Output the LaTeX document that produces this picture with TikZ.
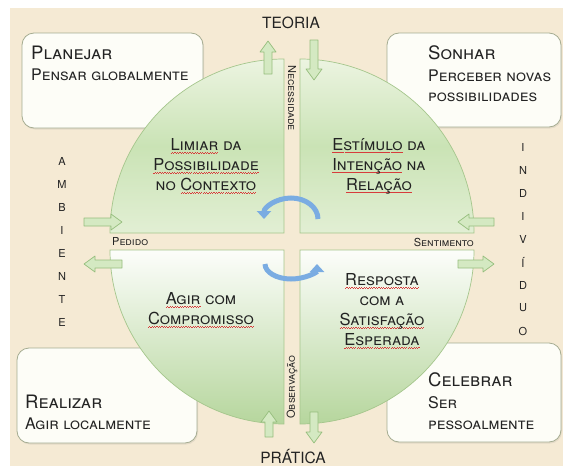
\documentclass[tikz,border=0pt]{standalone}
\usepackage{fontspec}
\setmainfont{TeX Gyre Heros}
\usetikzlibrary{arrows.meta,shadows}

\definecolor{parchment}{RGB}{245,234,212}
\definecolor{boxfill}{RGB}{253,253,247}
\definecolor{boxline}{RGB}{165,172,145}
\definecolor{leafpale}{RGB}{236,244,225}
\definecolor{leafgreen}{RGB}{202,227,181}
\definecolor{leafdark}{RGB}{182,214,157}
\definecolor{leafline}{RGB}{165,198,140}
\definecolor{arrowfill}{RGB}{212,233,194}
\definecolor{arrowline}{RGB}{150,190,125}
\definecolor{cycleblue}{RGB}{122,172,226}
\definecolor{inkgray}{RGB}{35,35,35}
\definecolor{squiggle}{RGB}{215,60,60}

% red spell-check line under a word
\newsavebox\spellbox
\newcommand\spellmark[1]{\sbox\spellbox{#1}%
  \rlap{\hbox to \wd\spellbox{\color{squiggle}\xleaders\hbox{\rule[-3pt]{1.2pt}{0.7pt}\rule[-2.2pt]{1.2pt}{0.7pt}}\hfill}}#1}

% fat green arrow: tail x, tail y, direction, length
\newcommand\greenarrow[4]{%
  \draw[flowarrow, shift={(#1,#2)}, rotate=#3]
    (0,-4) -- ({#4-11},-4) -- ({#4-11},-8) -- (#4,0) -- ({#4-11},8) -- ({#4-11},4) -- (0,4) -- cycle;}

\tikzset{
  card/.style={rounded corners=12pt, fill=boxfill, draw=boxline, line width=0.8pt,
    drop shadow={opacity=0.15, shadow xshift=1pt, shadow yshift=-1.5pt}},
  quadtop/.style={draw=leafline, line width=0.7pt, top color=leafpale, bottom color=leafpale!70!leafgreen, middle color=leafgreen},
  quadbottom/.style={draw=leafline, line width=0.7pt, top color=white!85!leafpale, bottom color=leafdark},
  flowarrow/.style={fill=arrowfill, draw=arrowline, line width=0.7pt, line join=round},
  cyclearrow/.style={draw=cycleblue, line width=5pt, -{Triangle[width=14pt,length=8pt]}},
  cardtitle/.style={font=\fontsize{18.5}{20}\selectfont\scshape, text=inkgray, anchor=base west, inner sep=0pt},
  cardtext/.style={font=\fontsize{16}{18}\selectfont\scshape, text=inkgray, anchor=base west, inner sep=0pt},
  leaftext/.style={font=\fontsize{16.5}{20}\selectfont\scshape, text=inkgray, align=center},
  gaplabel/.style={font=\fontsize{11}{12}\selectfont\scshape, text=inkgray, inner sep=0pt},
  sideletter/.style={font=\fontsize{11}{12}\selectfont, text=inkgray},
  pole/.style={font=\fontsize{15.5}{18}\selectfont\scshape, text=inkgray}
}

\begin{document}
\begin{tikzpicture}[x=1pt, y=-1pt]

    \useasboundingbox (0,0) rectangle (563,466);
    \fill[white] (0,0) rectangle (563,466);
    \fill[parchment] (10,8) rectangle (563,466);

    % corner cards
    \draw[card] (22,33) rectangle (203,128);
    \draw[card] (387,33) rectangle (561,127);
    \draw[card] (17,348) rectangle (197,443);
    \draw[card] (387,343) rectangle (561,442);

    \node[cardtitle] (planejar) at (31,59) {Planejar};
    \node[cardtext] (pensar) at (31,80) {Pensar globalmente};
    \node[cardtitle] (sonhar) at (428,59) {Sonhar};
    \node[cardtext] (perceber) at (428,81) {Perceber novas};
    \node[cardtext] (possib) at (428,101) {possibilidades};
    \node[cardtitle] (realizar) at (25,408) {Realizar};
    \node[cardtext] (agirloc) at (25,429) {Agir localmente};
    \node[cardtitle] (celebrar) at (428,386) {Celebrar};
    \node[cardtext] (ser) at (428,408) {Ser};
    \node[cardtext] (pessoal) at (428,429) {pessoalmente};

    % four quarters
    \draw[quadtop] (284,233) -- (110,233) arc[start angle=180, end angle=90, radius=174pt] -- cycle;
    \draw[quadtop] (300,233) -- (474,233) arc[start angle=0, end angle=90, radius=174pt] -- cycle;
    \draw[quadbottom] (284,250) -- (110,250) arc[start angle=180, end angle=270, radius=174pt] -- cycle;
    \draw[quadbottom] (300,250) -- (474,250) arc[start angle=0, end angle=-90, radius=174pt] -- cycle;

    \node[leaftext] (limiar) at (206,166) {\spellmark{Limiar} da\\\spellmark{Possibilidade}\\no \spellmark{Contexto}};
    \node[leaftext] (estimulo) at (379,166) {\spellmark{Estímulo} da\\\spellmark{Intenção} na\\\spellmark{Relação}};
    \node[leaftext] (agir) at (201,310) {\spellmark{Agir} com\\\spellmark{Compromisso}};
    \node[leaftext] (resposta) at (382,311) {\spellmark{Resposta}\\com a\\\spellmark{Satisfação}\\\spellmark{Esperada}};

    % labels in the gaps
    \node[gaplabel, rotate=-90] (necessidade) at (292,98) {Necessidade};
    \node[gaplabel, rotate=90] (observacao) at (292,387) {Observação};
    \node[gaplabel, anchor=west] (pedido) at (112,242) {Pedido};
    \node[gaplabel, anchor=east] (sentimento) at (474,242) {Sentimento};

    \node[pole] (teoria) at (291,23) {TEORIA};
    \node[pole] (pratica) at (293,457) {PRÁTICA};

    \foreach \ch [count=\i] in {A,M,B,I,E,N,T,E}
        \node[sideletter] (amb\i) at (62,{138+23*\i}) {\ch};
    \foreach \ch [count=\i] in {I,N,D,I,V,Í,D,U,O}
        \node[sideletter] (ind\i) at (523,{124+23*\i}) {\ch};

    % green arrows
    \greenarrow{268}{74}{90}{33}
    \greenarrow{314}{40}{270}{40}
    \greenarrow{269}{437}{90}{26}
    \greenarrow{314}{412}{270}{31}
    \greenarrow{84}{222}{0}{38}
    \greenarrow{122}{264}{180}{38}
    \greenarrow{494}{222}{180}{36}
    \greenarrow{458}{264}{0}{36}

    % turning arrows in the middle
    \coordinate (cycTop) at (318,219);
    \coordinate (cycLow) at (265,264);
    \draw[cyclearrow] (cycTop) arc[start angle=0, end angle=180, x radius=27pt, y radius=21pt];
    \draw[cyclearrow] (cycLow) arc[start angle=180, end angle=360, x radius=26pt, y radius=15pt];

\end{tikzpicture}
\end{document}
